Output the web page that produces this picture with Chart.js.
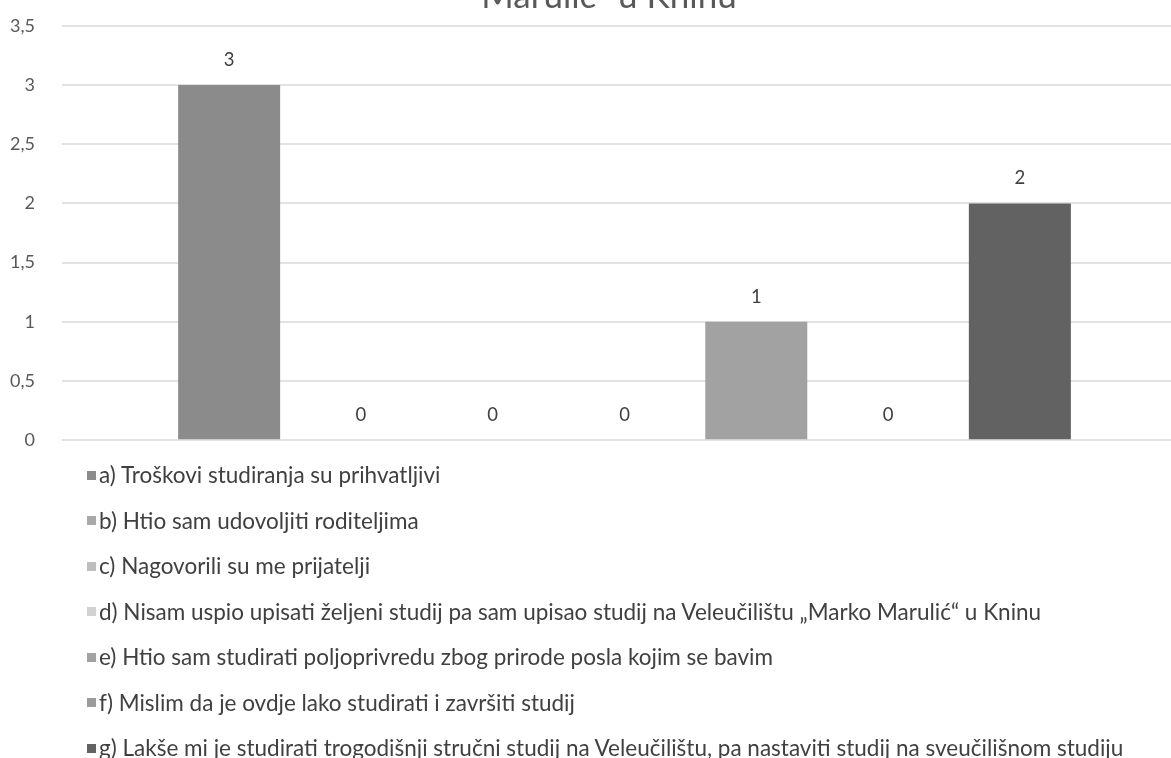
<!DOCTYPE html>
<html>
<head>
<meta charset="utf-8">
<script src="https://cdn.jsdelivr.net/npm/chart.js@4.4.1/dist/chart.umd.min.js"></script>
<style>
  html, body { margin: 0; padding: 0; background: #fff; width: 1171px; height: 758px; overflow: hidden; position: relative; font-family: Lato, "Open Sans", sans-serif; }
  #wrap { position: absolute; left: 0; top: -12px; width: 1188px; height: 490px; }
  #title { position: absolute; left: 609px; top: -27px; transform: translateX(-50%); white-space: nowrap;
           font-size: 35px; line-height: 42px; color: #595959; }
  #legend { position: absolute; left: 87px; top: 452px; }
  .item { display: flex; align-items: center; height: 45.5px; font-size: 22.5px; color: #404040; white-space: nowrap; }
  .sw { width: 9px; height: 9px; margin-right: 3px; margin-top: 1px; flex: none; }
</style>
</head>
<body>
<div id="wrap"><canvas id="c" width="1188" height="490" style="width:1188px;height:490px"></canvas></div>
<div id="title">Marulić“ u Kninu</div>
<div id="legend"></div>
<script>
const seriesNames = [
  "a) Troškovi studiranja su prihvatljivi",
  "b) Htio sam udovoljiti roditeljima",
  "c) Nagovorili su me prijatelji",
  "d) Nisam uspio upisati željeni studij pa sam upisao studij na Veleučilištu „Marko Marulić“ u Kninu",
  "e) Htio sam studirati poljoprivredu zbog prirode posla kojim se bavim",
  "f) Mislim da je ovdje lako studirati i završiti studij",
  "g) Lakše mi je studirati trogodišnji stručni studij na Veleučilištu, pa nastaviti studij na sveučilišnom studiju"
];
const seriesValues = [3, 0, 0, 0, 1, 0, 2];
const seriesColors = ["#8b8b8b", "#a8a8a8", "#bebebe", "#d2d2d2", "#a2a2a2", "#9c9c9c", "#626262"];
const categories = [""];
const yTicks = { min: 0, max: 3.5, step: 0.5 };

const valueLabels = {
  id: 'valueLabels',
  afterDatasetsDraw(chart) {
    const ctx = chart.ctx;
    ctx.save();
    ctx.font = '18.5px Lato, "Open Sans", sans-serif';
    ctx.fillStyle = '#404040';
    ctx.textAlign = 'center';
    ctx.textBaseline = 'middle';
    chart.data.datasets.forEach((ds, i) => {
      const meta = chart.getDatasetMeta(i);
      meta.data.forEach((bar, j) => {
        const v = ds.data[j];
        ctx.fillText(String(v).replace('.', ','), bar.x, bar.y - 25);
      });
    });
    ctx.restore();
  }
};

const chart = new Chart(document.getElementById('c'), {
  type: 'bar',
  data: {
    labels: categories,
    datasets: seriesNames.map((name, i) => ({
      label: name,
      data: [seriesValues[i]],
      backgroundColor: seriesColors[i],
      borderWidth: 0,
      categoryPercentage: 0.82,
      barPercentage: 0.774
    }))
  },
  options: {
    responsive: false,
    animation: false,
    layout: { padding: { top: 0, bottom: 0, left: 0, right: 1 } },
    plugins: {
      legend: { display: false },
      title: { display: false },
      tooltip: { enabled: false }
    },
    scales: {
      x: { display: false },
      y: {
        min: yTicks.min, max: yTicks.max,
        afterFit(scale) { scale.width = 62; },
        border: { display: false },
        grid: { color: '#e2e2e2', lineWidth: 2, drawTicks: false },
        ticks: {
          stepSize: yTicks.step,
          padding: 27,
          color: '#595959',
          font: { family: 'Lato, "Open Sans", sans-serif', size: 18 },
          callback: (v) => String(v).replace('.', ',')
        }
      }
    }
  },
  plugins: [valueLabels]
});

const legendEl = document.getElementById('legend');
chart.data.datasets.forEach((ds) => {
  const row = document.createElement('div');
  row.className = 'item';
  const sw = document.createElement('span');
  sw.className = 'sw';
  sw.style.background = ds.backgroundColor;
  const tx = document.createElement('span');
  tx.textContent = ds.label;
  row.appendChild(sw);
  row.appendChild(tx);
  legendEl.appendChild(row);
});
</script>
</body>
</html>
